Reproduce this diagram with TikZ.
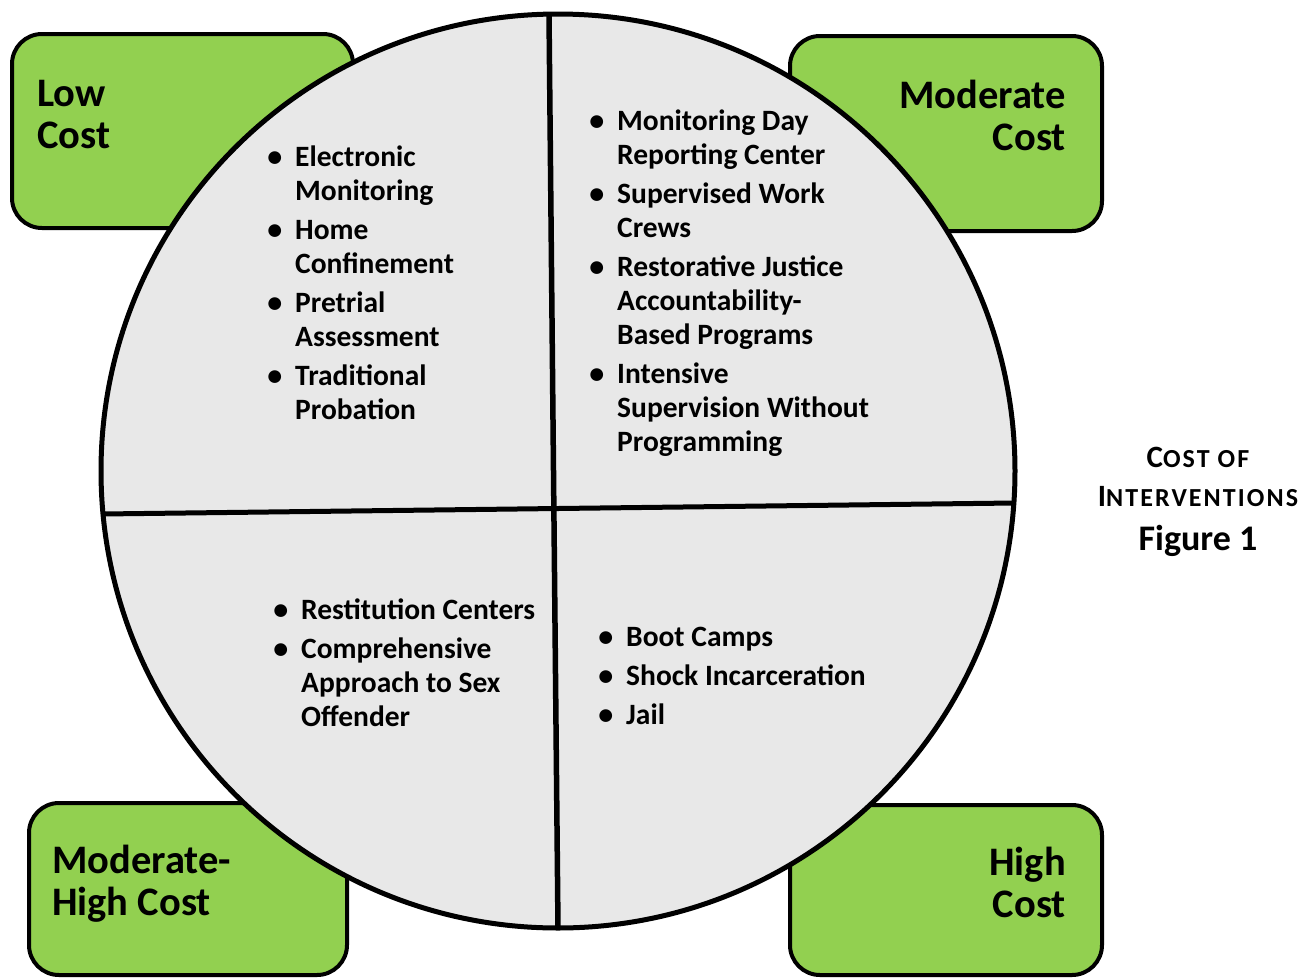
\documentclass[tikz,border=0pt]{standalone}
\usepackage{fontspec}
\setmainfont{Carlito}
\newfontfamily\spacedfont[LetterSpace=8]{Carlito}

\definecolor{costgreen}{HTML}{92D050}
\definecolor{piegray}{HTML}{E8E8E8}

% bullet hung left of the text
\newcommand{\bul}{\llap{{\fontsize{30}{30}\selectfont\textbullet}\hspace{13pt}}}
% small capitals by hand
\newcommand{\fsc}[2]{{\spacedfont\bfseries #1{\fontsize{26}{26}\selectfont #2}}}

\tikzset{
  costbox/.style={draw=black, line width=4pt, fill=costgreen, rounded corners=30pt},
  costlabel/.style={font=\fontsize{40.5}{42}\selectfont\bfseries, inner sep=0pt},
  items/.style={font=\fontsize{29.5}{34}\selectfont\bfseries, align=left, inner sep=0pt, anchor=base west},
  caption/.style={font=\fontsize{31}{39}\selectfont\bfseries, align=center, inner sep=0pt, anchor=base}
}

\begin{document}
\begin{tikzpicture}[x=1pt,y=-1pt]
\useasboundingbox (0,0) rectangle (1302,978);

% cost boxes behind the circle
\draw[costbox] (12,34) rectangle (353,228);
\draw[costbox] (790,36) rectangle (1102,231);
\draw[costbox] (29,803) rectangle (347,975);
\draw[costbox] (790,805) rectangle (1102,975);

% (base of a multi-line node = last line)
\node[costlabel, align=left, anchor=base west] (low) at (37,148) {Low\\Cost};
\node[costlabel, align=right, anchor=base east] (moderate) at (1066,150) {Moderate\\Cost};
\node[costlabel, align=left, anchor=base west] (modhigh) at (52,915) {Moderate-\\High Cost};
\node[costlabel, align=right, anchor=base east] (high) at (1066,917) {High\\Cost};

% the circle and its quarters
\coordinate (center) at (558,471);
\coordinate (vtop) at (549,14);
\coordinate (vbot) at (558,928);
\coordinate (hleft) at (102,514);
\coordinate (hright) at (1014,503);
\fill[piegray] (center) circle (457);
\draw[line width=5.5pt] (vtop) -- (vbot);
\draw[line width=5pt] (hleft) -- (hright);
\draw[line width=5pt] (center) circle (457);

\node[items] (lowlist) at (295,419) {\bul Electronic\\Monitoring\\[5pt]
  \bul Home\\Confinement\\[5pt]
  \bul Pretrial\\Assessment\\[5pt]
  \bul Traditional\\Probation};
\node[items] (modlist) at (617,451) {\bul Monitoring Day\\Reporting Center\\[5pt]
  \bul Supervised Work\\Crews\\[5pt]
  \bul Restorative Justice\\Accountability-\\Based Programs\\[5pt]
  \bul Intensive\\Supervision Without\\Programming};
\node[items] (modhighlist) at (301,726) {\bul Restitution Centers\\[5pt]
  \bul Comprehensive\\Approach to Sex\\Offender};
\node[items] (highlist) at (626,724) {\bul Boot Camps\\[5pt]
  \bul Shock Incarceration\\[5pt]
  \bul Jail};

% caption
\node[caption] (title) at (1198,506) {\fsc{C}{OST OF}\\\fsc{I}{NTERVENTIONS}};
\node[caption, font=\fontsize{36}{36}\selectfont\bfseries] (fig) at (1198,550) {Figure 1};
\end{tikzpicture}
\end{document}
